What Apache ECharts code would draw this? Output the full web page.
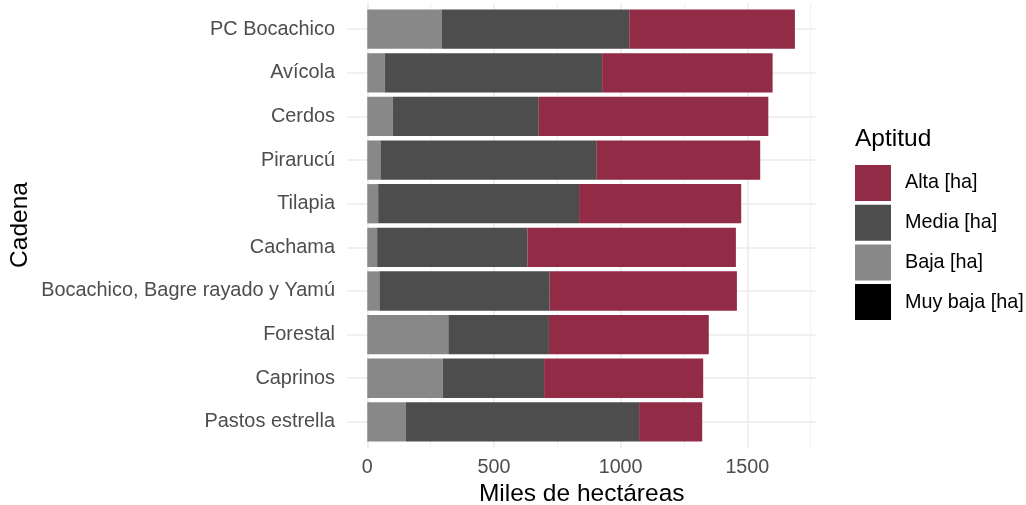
<!DOCTYPE html>
<html>
<head>
<meta charset="utf-8">
<script src="https://cdn.jsdelivr.net/npm/echarts@6/dist/echarts.min.js"></script>
<style>
html,body{margin:0;padding:0;background:#fff;}
#c{width:1026px;height:505px;}
</style>
</head>
<body>
<div id="c"></div>
<script>
const categories = ["PC Bocachico","Avícola","Cerdos","Pirarucú","Tilapia","Cachama","Bocachico, Bagre rayado y Yamú","Forestal","Caprinos","Pastos estrella"];
const muyBaja = [0,0,0,0,0,0,0,0,0,0];
const baja   = [293, 69, 101, 52, 43, 39, 48, 320, 298, 153];
const media  = [741, 858, 576, 854, 793, 593, 672, 397, 400, 920];
const alta   = [654, 673, 906, 645, 640, 823, 739, 631, 628, 249];
const majorTicks = [0, 500, 1000, 1500];
const minorTicks = [250, 750, 1250, 1750];
const catPositions = [1,2,3,4,5,6,7,8,9,10];
const seriesNames = ["Alta [ha]","Media [ha]","Baja [ha]","Muy baja [ha]"];

const FONT = '"Liberation Sans", Arial, sans-serif';
const chart = echarts.init(document.getElementById('c'), null, {renderer:'canvas'});
const L = 347, R = 1026 - 816.7;
const XMIN = -80, XMAX = 1774;

chart.setOption({
  animation:false,
  backgroundColor:'#fff',
  textStyle:{fontFamily:FONT},
  grid:[
    {left:L, right:R, top:3, bottom:505-448},
    {left:L, right:R, top:7.4, height:436.3}
  ],
  xAxis:[
    {gridIndex:0, type:'value', min:XMIN, max:XMAX,
     axisLine:{show:false}, axisTick:{show:false, customValues:majorTicks},
     axisLabel:{customValues:majorTicks, formatter:function(v){return String(v);}, color:'#4d4d4d', fontSize:19.7, fontFamily:FONT, margin:10},
     splitLine:{show:true, lineStyle:{color:'#ebebeb', width:1.6}}},
    {gridIndex:0, type:'value', min:XMIN, max:XMAX,
     axisLine:{show:false}, axisTick:{show:false, customValues:minorTicks},
     axisLabel:{show:false},
     splitLine:{show:true, lineStyle:{color:'#f2f2f2', width:1.2}}},
    {gridIndex:1, type:'value', min:XMIN, max:XMAX,
     axisLine:{show:false}, axisTick:{show:false}, axisLabel:{show:false}, splitLine:{show:false}}
  ],
  yAxis:[
    {gridIndex:0, type:'value', min:0.4, max:10.6, inverse:true,
     axisLine:{show:false}, axisTick:{show:false, customValues:catPositions},
     axisLabel:{show:false},
     splitLine:{show:true, lineStyle:{color:'#ebebeb', width:1.6}}},
    {gridIndex:1, type:'category', data:categories, inverse:true,
     axisLine:{show:false}, axisTick:{show:false},
     axisLabel:{color:'#4d4d4d', fontSize:19.9, fontFamily:FONT, margin:12, padding:[3,0,0,0]},
     splitLine:{show:false}}
  ],
  legend:{
    orient:'vertical', left:855, top:165, itemWidth:36, itemHeight:36, itemGap:3.7,
    icon:'rect', padding:0,
    data:seriesNames,
    textStyle:{color:'#000', fontSize:19.8, fontFamily:FONT, padding:[0,0,0,9]}
  },
  graphic:[
    {type:'text', x:581.7, y:494, style:{text:'Miles de hectáreas', fill:'#000', font:'24.5px '+FONT, textAlign:'center', textVerticalAlign:'middle'}},
    {type:'text', x:20, y:225, rotation:Math.PI/2, style:{text:'Cadena', fill:'#000', font:'24.5px '+FONT, textAlign:'center', textVerticalAlign:'middle'}},
    {type:'text', x:855, y:139, style:{text:'Aptitud', fill:'#000', font:'24.5px '+FONT, textAlign:'left', textVerticalAlign:'middle'}}
  ],
  series:[
    {name:'Muy baja [ha]', type:'bar', stack:'a', xAxisIndex:2, yAxisIndex:1, data:muyBaja, barCategoryGap:'10%', itemStyle:{color:'#000000'}},
    {name:'Baja [ha]', type:'bar', stack:'a', xAxisIndex:2, yAxisIndex:1, data:baja, barCategoryGap:'10%', itemStyle:{color:'#888888'}},
    {name:'Media [ha]', type:'bar', stack:'a', xAxisIndex:2, yAxisIndex:1, data:media, barCategoryGap:'10%', itemStyle:{color:'#4d4d4d'}},
    {name:'Alta [ha]', type:'bar', stack:'a', xAxisIndex:2, yAxisIndex:1, data:alta, barCategoryGap:'10%', itemStyle:{color:'#922b46'}}
  ]
});
</script>
</body>
</html>
